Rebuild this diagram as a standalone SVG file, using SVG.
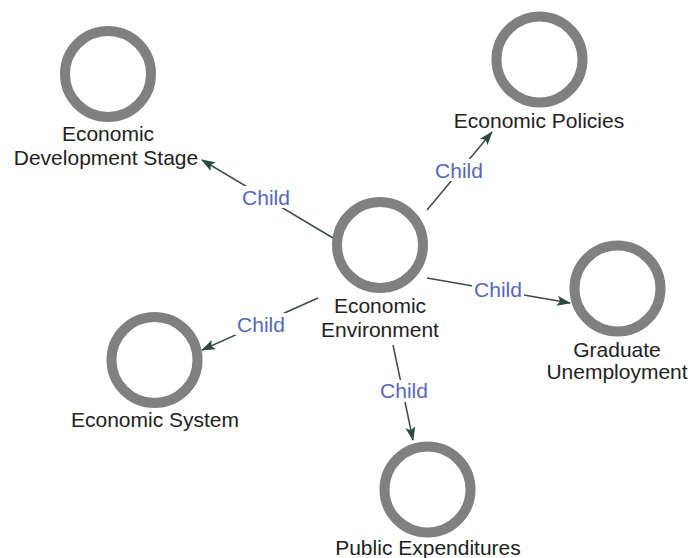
<svg xmlns="http://www.w3.org/2000/svg" width="690" height="558" viewBox="0 0 690 558">
<defs>
<marker id="arr" viewBox="0 0 14 10" refX="13" refY="5" markerWidth="14" markerHeight="10" markerUnits="userSpaceOnUse" orient="auto">
<path d="M0,0 L14,5 L0,10 L3,5 Z" fill="#2d4a42"/>
</marker>
</defs>
<style>
.node circle{fill:#fff;stroke:#808080;stroke-width:10}
.lbl{font-family:"Liberation Sans",Arial,sans-serif;font-size:21px;fill:#222;text-anchor:middle}
.edge line{stroke:#3a4c46;stroke-width:1.5;marker-end:url(#arr)}
.el rect{fill:#fff}
.el text{font-family:"Liberation Sans",Arial,sans-serif;font-size:21px;fill:#5767b9;text-anchor:middle}
</style>
<rect width="690" height="558" fill="#fff"/>
<g id="connectors" class="edge">
<line x1="333" y1="238" x2="202" y2="160"/>
<line x1="427" y1="210" x2="492" y2="132"/>
<line x1="427" y1="278" x2="570" y2="303"/>
<line x1="393" y1="345" x2="413" y2="440"/>
<line x1="318" y1="298" x2="202" y2="350"/>
<g class="el">
<rect x="240" y="186" width="52" height="22"/><text x="266" y="205">Child</text>
<rect x="433" y="159" width="52" height="22"/><text x="459" y="178">Child</text>
<rect x="472" y="279" width="52" height="21"/><text x="498" y="297">Child</text>
<rect x="378" y="380" width="52" height="22"/><text x="404" y="398">Child</text>
<rect x="235" y="313" width="52" height="22"/><text x="261" y="332">Child</text>
</g>
</g>
<g id="n-env" class="node"><circle cx="380" cy="245" r="43"/><text class="lbl" x="380" y="313">Economic</text><text class="lbl" x="380" y="337">Environment</text></g>
<g id="n-dev" class="node"><circle cx="108" cy="74" r="43"/><text class="lbl" x="108" y="141">Economic</text><text class="lbl" x="106" y="165">Development Stage</text></g>
<g id="n-pol" class="node"><circle cx="539.5" cy="59.5" r="43"/><text class="lbl" x="539" y="128">Economic Policies</text></g>
<g id="n-grad" class="node"><circle cx="617.5" cy="288.5" r="43"/><text class="lbl" x="617" y="357">Graduate</text><text class="lbl" x="617" y="379">Unemployment</text></g>
<g id="n-pub" class="node"><circle cx="427.5" cy="489.5" r="43"/><text class="lbl" x="428" y="555">Public Expenditures</text></g>
<g id="n-sys" class="node"><circle cx="154.5" cy="360" r="43"/><text class="lbl" x="155" y="427">Economic System</text></g>
</svg>
